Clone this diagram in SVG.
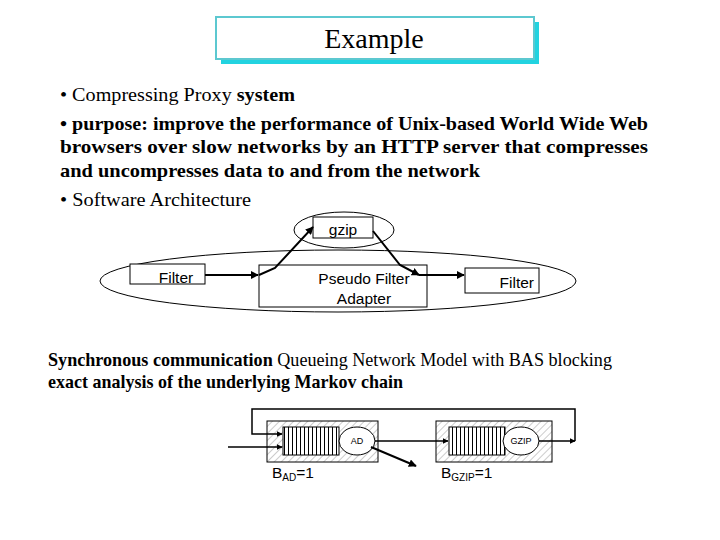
<svg xmlns="http://www.w3.org/2000/svg" width="720" height="540" viewBox="0 0 720 540">
<defs>
<style>
.t{font-family:"Liberation Serif",serif;font-size:19px;fill:#000}
.b{font-weight:bold}
.s{font-family:"Liberation Sans",sans-serif;font-size:15.5px;fill:#000}
.ss{font-family:"Liberation Sans",sans-serif;font-size:9px;fill:#000}
.n{fill:#fff;stroke:#000;stroke-width:1}
.c{fill:none;stroke:#000;stroke-width:2}
</style>
<marker id="a" viewBox="0 0 10 10" refX="9" refY="5" markerWidth="4" markerHeight="4" orient="auto"><path d="M0,0L10,5L0,10z" fill="#000"/></marker>
<pattern id="h" width="5" height="5" patternUnits="userSpaceOnUse" patternTransform="rotate(45)"><rect width="5" height="5" fill="#fff"/><line x1="0" y1="0" x2="0" y2="5" stroke="#999" stroke-width="1"/></pattern>
<pattern id="q" width="4" height="10" patternUnits="userSpaceOnUse"><rect width="4" height="10" fill="#fff"/><line x1="0.5" y1="0" x2="0.5" y2="10" stroke="#000" stroke-width="1"/></pattern>
</defs>
<g id="title">
<rect x="221" y="22" width="318" height="42" fill="#22d3e0"/>
<rect x="216" y="17" width="318" height="42" fill="#fff" stroke="#5cc8d0" stroke-width="2"/>
<text x="374" y="48" text-anchor="middle" font-family="Liberation Serif,serif" font-size="28">Example</text>
</g>
<g id="body">
<text class="t" x="60" y="101" textLength="235" lengthAdjust="spacingAndGlyphs">• Compressing Proxy <tspan class="b">system</tspan></text>
<text class="t b" x="60" y="130" textLength="588" lengthAdjust="spacingAndGlyphs">• purpose: improve the performance of Unix-based World Wide Web</text>
<text class="t b" x="60" y="153" textLength="588" lengthAdjust="spacingAndGlyphs">browsers over slow networks by an HTTP server that compresses</text>
<text class="t b" x="60" y="177" textLength="420" lengthAdjust="spacingAndGlyphs">and uncompresses data to and from the network</text>
<text class="t" x="60" y="206" textLength="191" lengthAdjust="spacingAndGlyphs">• Software Architecture</text>
<text class="t" x="48" y="366" font-size="18" textLength="564" lengthAdjust="spacingAndGlyphs"><tspan class="b">Synchronous communication</tspan>  Queueing Network Model with BAS blocking</text>
<text class="t b" x="48" y="388" font-size="18" textLength="355" lengthAdjust="spacingAndGlyphs">exact analysis of the underlying Markov chain</text>
</g>
<g id="groups">
<ellipse cx="338" cy="281" rx="238" ry="31" fill="none" stroke="#000"/>
<ellipse cx="344" cy="230" rx="50" ry="18" fill="none" stroke="#000"/>
</g>
<g id="gzip"><rect class="n" x="313" y="217" width="60" height="21"/><text class="s" x="343" y="235" text-anchor="middle">gzip</text></g>
<g id="filter1"><rect class="n" x="130" y="264" width="75" height="20"/><text class="s" x="176" y="283" text-anchor="middle">Filter</text></g>
<g id="pseudo"><rect class="n" x="259" y="265" width="168" height="42"/><text class="s" x="364" y="284" text-anchor="middle">Pseudo Filter</text><text class="s" x="364" y="304" text-anchor="middle">Adapter</text></g>
<g id="filter2"><rect class="n" x="465" y="268" width="74" height="25"/><text class="s" x="534" y="288" text-anchor="end">Filter</text></g>
<g id="connectors">
<line class="c" x1="205" y1="275" x2="258" y2="275" marker-end="url(#a)"/>
<polyline class="c" points="259,275 275,268 313,227" marker-end="url(#a)"/>
<polyline class="c" points="373,231 400,265 419,275" marker-end="url(#a)"/>
<line class="c" x1="419" y1="275" x2="464" y2="275" marker-end="url(#a)"/>
</g>
<g id="ad">
<rect x="267" y="421" width="111" height="41" fill="url(#h)" stroke="#000"/>
<rect x="283" y="427" width="56" height="28" fill="url(#q)" stroke="#000"/>
<ellipse cx="357" cy="441" rx="18" ry="14" class="n"/>
<text class="ss" x="357" y="444" text-anchor="middle">AD</text>
<text class="s" x="272" y="478" font-size="14">B<tspan font-size="10" dy="3">AD</tspan><tspan dy="-3">=1</tspan></text>
</g>
<g id="gzipq">
<rect x="436" y="421" width="116" height="41" fill="url(#h)" stroke="#000"/>
<rect x="449" y="427" width="56" height="28" fill="url(#q)" stroke="#000"/>
<ellipse cx="521" cy="441" rx="18" ry="14" class="n"/>
<text class="ss" x="521" y="444" text-anchor="middle">GZIP</text>
<text class="s" x="441" y="478" font-size="14">B<tspan font-size="10" dy="3">GZIP</tspan><tspan dy="-3">=1</tspan></text>
</g>
<g id="qconnectors" fill="none" stroke="#000" stroke-width="1.5">
<polyline points="575,441 575,409 252,409 252,434 282,434" marker-end="url(#a)"/>
<line x1="228" y1="447" x2="282" y2="447" marker-end="url(#a)"/>
<line x1="375" y1="441" x2="448" y2="441" marker-end="url(#a)"/>
<line x1="371" y1="447" x2="416" y2="466" stroke-width="2" marker-end="url(#a)"/>
<line x1="539" y1="441" x2="575" y2="441" marker-end="url(#a)"/>
</g>
</svg>
